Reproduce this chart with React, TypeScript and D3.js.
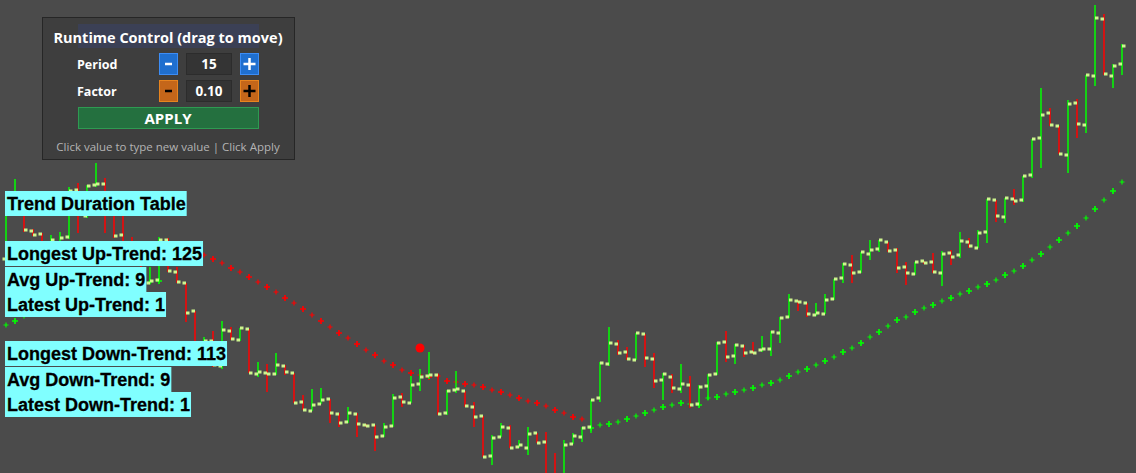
import * as d3 from 'd3';
import { useEffect, useRef } from 'react';

const W = 1136;
const H = 473;

// OHLC, one entry per bar
const opens = [
  124.1, 129.3, 130.4, 126.9, 126.6, 125.5, 125.7, 126.3, 131.0, 128.4,
  131.5, 131.6, 128.6, 126.5, 125.0, 124.2, 121.7, 122.0, 126.0, 122.8,
  121.7, 118.9, 114.2, 115.9, 113.4, 116.9, 116.0, 117.1, 112.6, 112.7,
  112.6, 113.4, 112.7, 109.8, 108.9, 109.6, 110.1, 108.6, 107.8, 108.6,
  107.5, 107.5, 106.4, 107.4, 110.3, 109.7, 111.6, 112.4, 112.5, 108.7,
  111.0, 110.9, 109.3, 108.4, 104.4, 106.3, 107.2, 105.3, 105.2, 106.7,
  105.8, 102.2, 101.2, 105.6, 106.3, 107.3, 110.2, 113.6, 115.6, 114.8,
  114.0, 116.6, 114.1, 112.0, 112.3, 111.1, 111.5, 109.6, 111.4, 112.6,
  115.8, 114.4, 115.4, 114.8, 115.0, 115.1, 116.7, 118.3, 119.9, 119.7,
  118.5, 118.6, 120.1, 122.2, 123.5, 122.8, 124.6, 125.1, 125.8, 125.0,
  123.3, 122.6, 123.9, 123.8, 122.7, 124.7, 124.5, 125.8, 125.2, 126.8,
  130.0, 128.3, 130.1, 130.0, 132.5, 136.2, 138.7, 137.4, 134.5, 139.7,
  137.5, 142.4, 148.1, 142.4, 143.6,
];
const highs = [
  129.5, 132.1, 130.8, 127.1, 126.7, 126.5, 126.8, 131.3, 131.7, 131.5,
  133.7, 132.2, 128.8, 128.5, 126.3, 125.0, 123.3, 126.3, 126.2, 123.3,
  121.7, 118.9, 116.3, 116.9, 117.9, 117.3, 117.2, 117.1, 113.8, 113.6,
  114.7, 113.5, 112.7, 110.5, 111.1, 111.2, 110.1, 108.7, 109.3, 108.7,
  107.6, 107.5, 107.7, 110.6, 110.7, 112.4, 113.1, 114.8, 112.6, 111.0,
  112.9, 110.9, 109.8, 108.4, 106.5, 107.7, 107.5, 106.0, 107.3, 106.7,
  106.8, 104.7, 106.0, 106.7, 107.3, 110.0, 113.8, 117.3, 116.0, 115.3,
  116.7, 116.6, 114.7, 112.7, 112.6, 113.6, 112.4, 111.5, 112.6, 115.8,
  116.9, 115.6, 115.5, 115.8, 116.4, 116.9, 118.3, 120.6, 120.0, 119.7,
  119.7, 120.6, 122.1, 123.7, 124.5, 124.8, 126.0, 126.0, 125.8, 125.2,
  123.8, 123.8, 123.9, 124.7, 124.9, 125.0, 126.8, 126.2, 127.0, 130.1,
  130.0, 130.2, 131.1, 132.4, 136.1, 141.2, 139.2, 137.4, 140.0, 140.1,
  142.5, 149.5, 148.6, 143.6, 145.6,
];
const lows = [
  123.8, 128.8, 126.8, 126.4, 125.2, 125.3, 125.5, 126.1, 126.7, 128.2,
  131.3, 126.7, 126.2, 124.8, 123.8, 121.5, 121.6, 121.8, 122.8, 121.7,
  117.8, 113.8, 113.8, 113.3, 113.1, 116.0, 115.9, 112.7, 112.3, 110.8,
  112.5, 112.5, 109.7, 109.0, 108.9, 109.6, 107.7, 107.3, 107.7, 106.3,
  107.3, 104.9, 106.3, 107.3, 109.3, 109.7, 110.9, 112.1, 108.5, 108.5,
  110.7, 109.3, 107.3, 104.3, 103.5, 106.3, 105.2, 105.2, 104.5, 105.7,
  101.0, 100.5, 100.5, 105.6, 105.8, 106.7, 109.8, 113.4, 114.5, 114.0,
  114.0, 113.3, 111.2, 110.0, 110.7, 110.7, 109.2, 109.3, 110.0, 112.5,
  113.8, 113.6, 114.3, 114.6, 114.8, 114.4, 115.7, 118.2, 118.9, 118.3,
  118.4, 118.6, 120.0, 121.7, 121.7, 122.7, 124.0, 124.8, 124.8, 122.7,
  121.5, 122.5, 123.6, 122.7, 121.4, 123.5, 124.2, 125.2, 125.2, 125.7,
  127.8, 127.7, 129.5, 129.8, 132.2, 133.2, 137.4, 134.6, 132.7, 136.2,
  136.7, 141.4, 142.5, 141.2, 142.5,
];
const closes = [
  129.3, 130.5, 127.0, 126.5, 125.5, 126.0, 126.2, 130.9, 128.6, 131.4,
  131.6, 128.6, 126.4, 125.0, 124.2, 121.8, 121.9, 126.0, 122.9, 121.8,
  118.7, 114.2, 115.9, 113.5, 117.0, 116.1, 117.2, 112.7, 112.8, 112.6,
  113.5, 112.8, 109.7, 109.0, 109.5, 110.0, 108.7, 107.7, 108.7, 107.6,
  107.4, 106.3, 107.3, 110.2, 109.8, 111.5, 112.3, 112.5, 108.6, 110.9,
  111.1, 109.4, 108.3, 104.3, 106.2, 107.3, 105.2, 105.5, 106.6, 105.7,
  102.2, 101.2, 105.5, 106.4, 107.2, 110.0, 113.7, 115.7, 114.7, 114.1,
  116.7, 114.2, 111.9, 112.6, 111.2, 111.6, 109.5, 111.3, 112.5, 115.7,
  114.3, 115.5, 114.7, 114.7, 115.1, 116.8, 118.2, 120.0, 119.8, 118.6,
  118.7, 120.0, 122.1, 123.6, 122.7, 124.8, 125.0, 126.0, 124.9, 123.2,
  122.7, 123.8, 123.7, 122.8, 124.6, 124.3, 125.9, 125.4, 126.7, 130.1,
  128.4, 130.2, 129.9, 132.4, 136.1, 138.5, 137.5, 134.6, 139.6, 137.6,
  142.5, 148.2, 142.6, 143.4, 145.4,
];

// trailing stop per bar
const stops = [
  117.5, 117.9, 118.4, 118.8, 119.1, 119.4, 119.7, 120.0, 120.3, 120.6,
  120.8, 121.0, 121.2, 121.4, 121.6, 121.7, 121.8, 121.9, 125.8, 125.4,
  125.0, 124.8, 124.5, 124.1, 123.7, 123.2, 122.8, 122.3, 121.8, 121.3,
  120.8, 120.2, 119.7, 119.1, 118.5, 117.9, 117.3, 116.7, 116.2, 115.6,
  115.0, 114.5, 113.9, 113.5, 113.0, 112.7, 112.5, 112.3, 112.4, 111.9,
  111.8, 111.6, 111.5, 111.3, 111.0, 110.8, 110.5, 110.2, 109.9, 109.7,
  109.4, 109.0, 108.7, 108.3, 108.1, 107.2, 107.5, 107.6, 107.8, 108.1,
  108.4, 108.7, 109.0, 109.3, 109.5, 109.7, 109.6, 109.5, 110.2, 110.3,
  110.6, 110.8, 111.0, 111.2, 111.5, 111.7, 112.0, 112.4, 112.8, 113.1,
  113.5, 113.9, 114.3, 114.8, 115.2, 115.7, 116.3, 116.8, 117.4, 118.0,
  118.3, 118.8, 119.2, 119.5, 119.9, 120.2, 120.6, 120.9, 121.3, 121.6,
  122.0, 122.5, 122.9, 123.4, 124.0, 124.6, 125.3, 126.0, 126.7, 127.4,
  128.2, 129.1, 130.0, 130.9, 131.8,
];
const trendStarts = [0, 18, 65];
const trendUp = [true, false, true];

const signalBars = [46];
const signalPrices = [115.2];

const tableRows = [
  'Trend Duration Table',
  'Longest Up-Trend: 125',
  'Avg Up-Trend: 9',
  'Latest Up-Trend: 1',
  'Longest Down-Trend: 113',
  'Avg Down-Trend: 9',
  'Latest Down-Trend: 1',
];
const tableTops = [191, 241, 267, 292, 341, 367, 392];

const UP = '#00ff00';
const DN = '#ff0000';
const TICK = '#cdf58e';

export default function App() {
  const ref = useRef<SVGSVGElement | null>(null);

  useEffect(() => {
    if (!ref.current) return;
    document.body.style.margin = '0';
    const svg = d3.select(ref.current);
    svg.selectAll('*').remove();

    svg.append('rect').attr('width', W).attr('height', H).attr('fill', '#4b4b4b');

    const x = d3.scaleLinear().domain([0, closes.length - 1]).range([6, 1122]);
    const y = d3.scaleLinear().domain([102.7, 150]).range([H, 0]);
    const idx = d3.range(closes.length);

    const upAt = (i: number) => {
      let up = trendUp[0];
      trendStarts.forEach((s, j) => {
        if (i >= s) up = trendUp[j];
      });
      return up;
    };

    // stop crosses (behind the bars), every other one a bit heavier like the original
    svg
      .append('g')
      .selectAll('path')
      .data(idx)
      .join('path')
      .attr('d', (i) => {
        const cx = x(i);
        const cy = y(stops[i]);
        const a = i % 2 ? 3 : 2.5;
        return `M${cx - a},${cy}H${cx + a}M${cx},${cy - a}V${cy + a}`;
      })
      .attr('stroke', (i) => (upAt(i) ? UP : DN))
      .attr('stroke-width', (i) => (i % 2 ? 1.7 : 1.2))
      .attr('fill', 'none');

    svg
      .append('g')
      .selectAll('circle')
      .data(signalBars)
      .join('circle')
      .attr('cx', (b) => x(b))
      .attr('cy', (_, j) => y(signalPrices[j]))
      .attr('r', 4.5)
      .attr('fill', DN);

    // OHLC bars
    const bars = svg.append('g').selectAll('g').data(idx).join('g');
    bars
      .append('line')
      .attr('x1', (i) => x(i))
      .attr('x2', (i) => x(i))
      .attr('y1', (i) => y(highs[i]))
      .attr('y2', (i) => y(lows[i]))
      .attr('stroke', (i) => (closes[i] >= opens[i] ? UP : DN))
      .attr('stroke-width', 1.5);
    bars
      .append('rect')
      .attr('x', (i) => x(i) - 3.5)
      .attr('y', (i) => y(opens[i]) - 1.5)
      .attr('width', 3.5)
      .attr('height', 3)
      .attr('fill', TICK);
    bars
      .append('rect')
      .attr('x', (i) => x(i))
      .attr('y', (i) => y(closes[i]) - 1.5)
      .attr('width', 3.5)
      .attr('height', 3)
      .attr('fill', TICK);

    // trend duration table
    const rows = svg.append('g').selectAll('g').data(tableRows).join('g');
    rows.each(function (label, j) {
      const g = d3.select(this);
      const r = g.append('rect').attr('x', 5).attr('y', tableTops[j]).attr('height', 25).attr('fill', '#80ffff');
      const t = g
        .append('text')
        .attr('x', 7)
        .attr('y', tableTops[j] + 19)
        .attr('font-family', '"Liberation Sans", Arial, sans-serif')
        .attr('font-weight', 'bold')
        .attr('font-size', 18)
        .attr('fill', '#000')
        .attr('stroke', '#000')
        .attr('stroke-width', 0.3)
        .text(label);
      const len = (t.node() as SVGTextElement).getComputedTextLength();
      r.attr('width', len + 3);
    });

    // runtime control panel
    const p = svg.append('g').attr('font-family', '"Open Sans", "DejaVu Sans", sans-serif');
    p.append('rect').attr('x', 42.5).attr('y', 17.5).attr('width', 252).attr('height', 142)
      .attr('fill', '#3e3e3e').attr('stroke', '#262626').attr('stroke-width', 1);
    p.append('rect').attr('x', 78).attr('y', 24).attr('width', 181).attr('height', 24).attr('fill', '#3b4055');
    p.append('text').attr('x', 168).attr('y', 43).attr('text-anchor', 'middle').attr('font-size', 14.5)
      .attr('font-weight', 'bold').attr('fill', '#ffffff').text('Runtime Control (drag to move)');

    const ctlRows = [
      { label: 'Period', value: '15', top: 53, fill: '#1f6fcf', stroke: '#3d8df5', sign: '#ffffff' },
      { label: 'Factor', value: '0.10', top: 80, fill: '#c4661a', stroke: '#e8841e', sign: '#000000' },
    ];
    ctlRows.forEach((c) => {
      p.append('text').attr('x', 77).attr('y', c.top + 16).attr('font-size', 12.5).attr('font-weight', 'bold')
        .attr('fill', '#ffffff').text(c.label);
      p.append('rect').attr('x', 159.5).attr('y', c.top + 0.5).attr('width', 18).attr('height', 21)
        .attr('fill', c.fill).attr('stroke', c.stroke);
      p.append('rect').attr('x', 186.5).attr('y', c.top + 0.5).attr('width', 45).attr('height', 21)
        .attr('fill', '#343434').attr('stroke', '#2c2c2c');
      p.append('rect').attr('x', 240.5).attr('y', c.top + 0.5).attr('width', 18).attr('height', 21)
        .attr('fill', c.fill).attr('stroke', c.stroke);
      p.append('path').attr('d', `M165,${c.top + 11}H172`).attr('stroke', c.sign).attr('stroke-width', 2.5);
      p.append('path').attr('d', `M243.5,${c.top + 11}H255.5M249.5,${c.top + 5}V${c.top + 17}`)
        .attr('stroke', c.sign).attr('stroke-width', 2.5);
      p.append('text').attr('x', 209).attr('y', c.top + 16).attr('text-anchor', 'middle').attr('font-size', 13.5)
        .attr('font-weight', 'bold').attr('fill', '#ffffff').text(c.value);
    });

    p.append('rect').attr('x', 78.5).attr('y', 107.5).attr('width', 180).attr('height', 21)
      .attr('fill', '#24703f').attr('stroke', '#2e9a52');
    p.append('text').attr('x', 168).attr('y', 124).attr('text-anchor', 'middle').attr('font-size', 15)
      .attr('font-weight', 'bold').attr('fill', '#ffffff').text('APPLY');
    p.append('text').attr('x', 168).attr('y', 151).attr('text-anchor', 'middle').attr('font-size', 11.5)
      .attr('fill', '#b4b4b4').text('Click value to type new value | Click Apply');
  }, []);

  return <svg ref={ref} width={W} height={H} style={{ display: 'block' }} />;
}
